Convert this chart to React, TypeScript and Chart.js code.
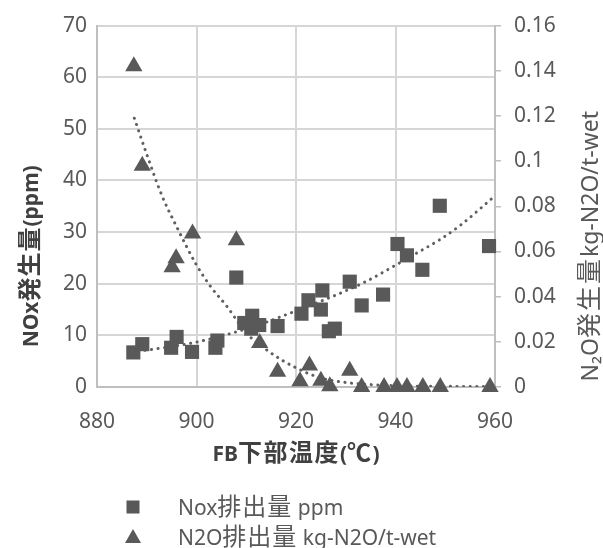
import React, { useEffect, useRef } from 'react';
import { Chart, registerables } from 'chart.js';

Chart.register(...registerables);

// ---- data ----
const noxTemp = [887.3, 889.1, 894.9, 896.0, 899.1, 903.8, 904.2, 908.0, 909.6, 911.2, 912.6, 911.0, 916.3, 921.1, 922.5, 925.3, 925.0, 926.6, 927.8, 930.8, 933.2, 937.5, 940.4, 942.3, 945.4, 948.9, 958.8];
const noxPpm = [6.7, 8.3, 7.6, 9.7, 6.8, 7.6, 9.0, 21.2, 12.4, 13.8, 12.0, 11.3, 11.8, 14.2, 16.8, 18.7, 15.0, 10.8, 11.3, 20.4, 15.8, 17.9, 27.7, 25.5, 22.7, 35.1, 27.3];

const n2oTemp = [887.4, 889.1, 895.1, 895.9, 899.2, 908.0, 912.7, 916.3, 920.8, 922.7, 925.0, 926.8, 930.8, 933.2, 937.7, 940.3, 942.3, 945.5, 949.0, 959.0];
const n2oKg = [0.142, 0.098, 0.053, 0.057, 0.068, 0.065, 0.0195, 0.0068, 0.0025, 0.0095, 0.0028, 0.0003, 0.0072, 0, 0, 0, 0, 0, 0, 0];

const noxTrendTemp = [887, 892, 900, 907, 913, 918, 927, 934, 938, 944, 949, 953, 959.5];
const noxTrendPpm = [6.8, 7.4, 8.7, 10.4, 12.2, 14.0, 17.4, 20.4, 22.5, 25.8, 28.6, 31.3, 36.6];

const n2oTrendTemp = [887.5, 890, 893, 896, 900, 903, 906, 910, 915, 920, 925, 930, 940, 950, 959];
const n2oTrendKg = [0.119, 0.103, 0.085, 0.071, 0.054, 0.044, 0.036, 0.024, 0.015, 0.0085, 0.004, 0.002, 0.0006, 0.0003, 0.0002];

const xTicks = [880, 900, 920, 940, 960];
const leftTicks = [0, 10, 20, 30, 40, 50, 60, 70];
const rightTicks = [0, 0.02, 0.04, 0.06, 0.08, 0.1, 0.12, 0.14, 0.16];

const seriesLabels = ['Nox排出量 ppm', 'N2O排出量 kg-N2O/t-wet'];
const xTitle = 'FB下部温度(℃)';
const yLeftTitle = 'NOx発生量(ppm)';
const yRightTitle = 'N₂O発生量kg-N2O/t-wet';

// ---- styling ----
const MARK = '#595959';
const TEXT = '#595959';
const TITLE = '#404040';
const GRID = '#d6d6d6';
const AXIS = '#bfbfbf';
const LATIN = '"Noto Sans", "DejaVu Sans", sans-serif';
const CJK = '"Noto Sans CJK JP", "Noto Sans", sans-serif';

const CJK_RE = /[\u2103\u3000-\u9fff\uff00-\uffef]/;

type RunFonts = { latin: string; cjk: string; spacing: number };

function drawRuns(ctx: CanvasRenderingContext2D, text: string, x: number, y: number, f: RunFonts, align: 'left' | 'center') {
  const runs: { t: string; c: boolean }[] = [];
  for (const ch of Array.from(text)) {
    const c = CJK_RE.test(ch);
    if (runs.length && runs[runs.length - 1].c === c) runs[runs.length - 1].t += ch;
    else runs.push({ t: ch, c });
  }
  const a = ctx as any;
  const setFont = (c: boolean) => {
    ctx.font = c ? f.cjk : f.latin;
    if ('letterSpacing' in a) a.letterSpacing = c ? f.spacing + 'px' : '0px';
  };
  const widths = runs.map((r) => {
    setFont(r.c);
    return ctx.measureText(r.t).width;
  });
  const total = widths.reduce((s, w) => s + w, 0);
  let cx = align === 'center' ? x - total / 2 : x;
  ctx.textAlign = 'left';
  ctx.textBaseline = 'alphabetic';
  runs.forEach((r, i) => {
    setFont(r.c);
    ctx.fillText(r.t, cx, y);
    cx += widths[i];
  });
  if ('letterSpacing' in a) a.letterSpacing = '0px';
}

const textPlugin = {
  id: 'titlesAndLegend',
  afterDraw(chart: any) {
    const { ctx, chartArea: a } = chart;
    const midX = (a.left + a.right) / 2;
    const midY = (a.top + a.bottom) / 2;
    ctx.save();

    // x axis title
    ctx.fillStyle = TITLE;
    drawRuns(ctx, xTitle, midX, a.bottom + 74, { latin: `bold 21px ${LATIN}`, cjk: `bold 24px ${CJK}`, spacing: 1.5 }, 'center');

    // left axis title
    ctx.save();
    ctx.translate(a.left - 67, midY + 50);
    ctx.rotate(-Math.PI / 2);
    drawRuns(ctx, yLeftTitle, 0, 8, { latin: `bold 21px ${LATIN}`, cjk: `bold 24px ${CJK}`, spacing: 1 }, 'center');
    ctx.restore();

    // right axis title
    ctx.save();
    ctx.fillStyle = TEXT;
    ctx.translate(a.right + 95, midY + 40);
    ctx.rotate(-Math.PI / 2);
    drawRuns(ctx, yRightTitle, 0, 8, { latin: `23px ${LATIN}`, cjk: `25px ${CJK}`, spacing: 2 }, 'center');
    ctx.restore();

    // legend
    const datasets = chart.data.datasets.slice(0, 2);
    datasets.forEach((ds: any, i: number) => {
      const y = a.bottom + 120 + i * 30;
      const x = a.left + 36;
      ctx.fillStyle = MARK;
      if (ds.pointStyle === 'rect') {
        ctx.fillRect(x - 6.5, y - 6.5, 13, 13);
      } else {
        ctx.beginPath();
        ctx.moveTo(x, y - 8);
        ctx.lineTo(x + 8, y + 6);
        ctx.lineTo(x - 8, y + 6);
        ctx.closePath();
        ctx.fill();
      }
      ctx.fillStyle = TEXT;
      drawRuns(ctx, ds.label, a.left + 81, y + 8, { latin: `21px ${LATIN}`, cjk: `24px ${CJK}`, spacing: 1 }, 'left');
    });
    ctx.restore();
  },
};

export default function App() {
  const ref = useRef<HTMLCanvasElement>(null);

  useEffect(() => {
    document.body.style.margin = '0';
    const canvas = ref.current;
    if (!canvas) return;

    const chart = new Chart(canvas, {
      type: 'scatter',
      data: {
        datasets: [
          {
            label: seriesLabels[0],
            data: noxTemp.map((x, i) => ({ x, y: noxPpm[i] })),
            yAxisID: 'y',
            pointStyle: 'rect',
            pointRadius: 10,
            backgroundColor: MARK,
            borderWidth: 0,
            clip: false as any,
          },
          {
            label: seriesLabels[1],
            data: n2oTemp.map((x, i) => ({ x, y: n2oKg[i] })),
            yAxisID: 'y1',
            pointStyle: 'triangle',
            pointRadius: 10,
            backgroundColor: MARK,
            borderWidth: 0,
            clip: false as any,
          },
          {
            label: 'nox-trend',
            data: noxTrendTemp.map((x, i) => ({ x, y: noxTrendPpm[i] })),
            yAxisID: 'y',
            showLine: true,
            pointRadius: 0,
            borderColor: '#5f5f5f',
            borderWidth: 3,
            borderDash: [0.1, 6.5],
            borderCapStyle: 'round',
            cubicInterpolationMode: 'monotone',
            fill: false,
          },
          {
            label: 'n2o-trend',
            data: n2oTrendTemp.map((x, i) => ({ x, y: n2oTrendKg[i] })),
            yAxisID: 'y1',
            showLine: true,
            pointRadius: 0,
            borderColor: '#5f5f5f',
            borderWidth: 3,
            borderDash: [0.1, 6.5],
            borderCapStyle: 'round',
            cubicInterpolationMode: 'monotone',
            fill: false,
          },
        ],
      } as any,
      options: {
        responsive: false,
        animation: false,
        layout: { padding: { top: 20, bottom: 71, left: 0, right: 0 } },
        plugins: {
          legend: { display: false },
          tooltip: { enabled: false },
        },
        scales: {
          x: {
            type: 'linear',
            min: 880,
            max: 960,
            afterBuildTicks: (s: any) => {
              s.ticks = xTicks.map((v) => ({ value: v }));
            },
            afterFit: (s: any) => {
              s.height = 90;
            },
            grid: { color: GRID, lineWidth: 2, drawTicks: false },
            border: { color: AXIS, width: 2 },
            ticks: { color: TEXT, font: { family: LATIN, size: 21 }, padding: 22, maxRotation: 0 },
          },
          y: {
            type: 'linear',
            position: 'left',
            min: 0,
            max: 70,
            afterBuildTicks: (s: any) => {
              s.ticks = leftTicks.map((v) => ({ value: v }));
            },
            afterFit: (s: any) => {
              s.width = 97;
            },
            grid: { color: GRID, lineWidth: 2, drawTicks: false },
            border: { color: AXIS, width: 2 },
            ticks: { color: TEXT, font: { family: LATIN, size: 21 }, padding: 10 },
          },
          y1: {
            type: 'linear',
            position: 'right',
            min: 0,
            max: 0.16,
            afterBuildTicks: (s: any) => {
              s.ticks = rightTicks.map((v) => ({ value: v }));
            },
            afterFit: (s: any) => {
              s.width = 108;
            },
            grid: { drawOnChartArea: false, drawTicks: true, tickLength: 6, color: AXIS, lineWidth: 1.5 },
            border: { color: AXIS, width: 2 },
            ticks: {
              color: TEXT,
              font: { family: LATIN, size: 21 },
              padding: 13,
              callback: (v: any) => String(Number(Number(v).toFixed(2))),
            },
          },
        },
      } as any,
      plugins: [textPlugin],
    });

    return () => chart.destroy();
  }, []);

  return (
    <div style={{ width: 603, height: 548 }}>
      <canvas ref={ref} width={603} height={548} style={{ display: 'block' }} />
    </div>
  );
}
